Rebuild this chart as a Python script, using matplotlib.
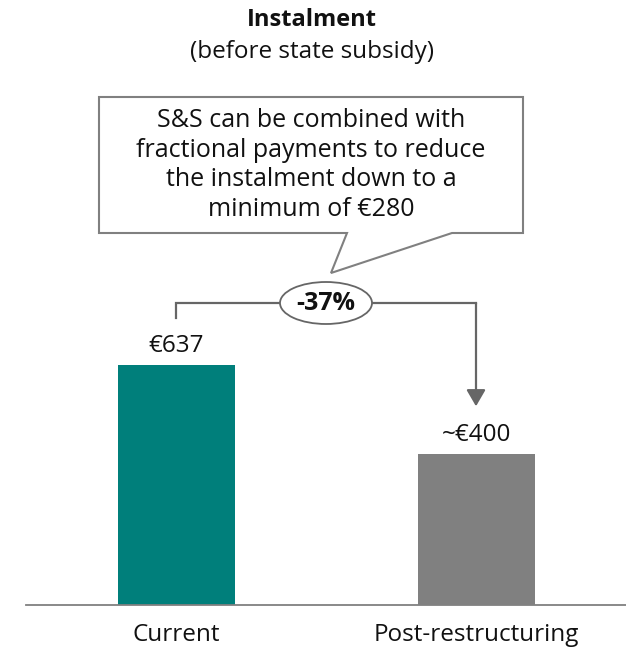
import matplotlib
matplotlib.use("Agg")
import matplotlib.pyplot as plt
from matplotlib.patches import Polygon, Ellipse, FancyArrowPatch

plt.rcParams['font.family'] = ['Open Sans', 'DejaVu Sans']

categories = ["Current", "Post-restructuring"]
values = [637, 400]
value_labels = ["€637", "~€400"]
bar_colors = ["#007f7b", "#808080"]
change_label = "-37%"
title = "Instalment"
subtitle = "(before state subsidy)"
callout_text = ("S&S can be combined with\nfractional payments to reduce\n"
                "the instalment down to a\nminimum of €280")

W, H = 626, 647
fig = plt.figure(figsize=(W / 100, H / 100), dpi=100)

# main bar axes: baseline 42px above bottom, 240px per 637 units
px_per_unit = 240 / 637
base_px = 42
ax = fig.add_axes([26 / W, base_px / H, 600 / W, (H - base_px) / H])
ax.set_xlim(-0.5, 1.5)
ax.set_ylim(0, (H - base_px) / px_per_unit)
x = list(range(len(categories)))
ax.bar(x, values, width=0.39, color=bar_colors, zorder=2)
for s in ["top", "right", "left"]:
    ax.spines[s].set_visible(False)
ax.spines["bottom"].set_color("#808080")
ax.spines["bottom"].set_linewidth(1.3)
ax.set_yticks([])
ax.set_xticks(x)
ax.set_xticklabels(categories, fontsize=17.5, color="#111111")
ax.tick_params(axis="x", length=0, pad=13)

def px2data(p):
    return p / px_per_unit

# value labels above bars
for xi, v, lab in zip(x, values, value_labels):
    ax.text(xi, v + px2data(19), lab, ha="center", va="center",
            fontsize=17.5, color="#111111")

# bracket with arrow from current to post-restructuring
y_br = values[0] + px2data(62)
ax.plot([x[0], x[0], x[1]], [values[0] + px2data(47), y_br, y_br],
        color="#666666", lw=1.6, solid_joinstyle="miter", zorder=3)
arr = FancyArrowPatch((x[1], y_br), (x[1], values[1] + px2data(48)),
                      arrowstyle="-|>,head_length=10,head_width=5.8",
                      color="#666666", lw=1.6, shrinkA=0, shrinkB=0,
                      mutation_scale=1, zorder=3)
ax.add_patch(arr)
ex = 0.5 * (x[0] + x[1])
ax.add_patch(Ellipse((ex, y_br), width=92 / 300, height=px2data(42),
                     facecolor="white", edgecolor="#666666", lw=1.3, zorder=4))
ax.text(ex, y_br, change_label, ha="center", va="center", fontsize=18,
        fontweight="bold", color="#111111", zorder=5)

# overlay in pixel coordinates for title and callout
ov = fig.add_axes([0, 0, 1, 1], facecolor="none")
ov.set_xlim(0, W)
ov.set_ylim(H, 0)
ov.axis("off")
ov.text(312, 20, title, ha="center", va="center", fontsize=17,
        fontweight="bold", color="#111111")
ov.text(312, 52, subtitle, ha="center", va="center", fontsize=17.5,
        color="#111111")
callout = Polygon([(99, 97), (523, 97), (523, 233), (452, 233), (331, 273),
                   (347, 233), (99, 233)], closed=True, facecolor="white",
                  edgecolor="#808080", lw=1.5)
ov.add_patch(callout)
ov.text(311, 165, callout_text, ha="center", va="center", fontsize=18,
        color="#111111", linespacing=1.25)

fig.savefig("out.png", dpi=100)
